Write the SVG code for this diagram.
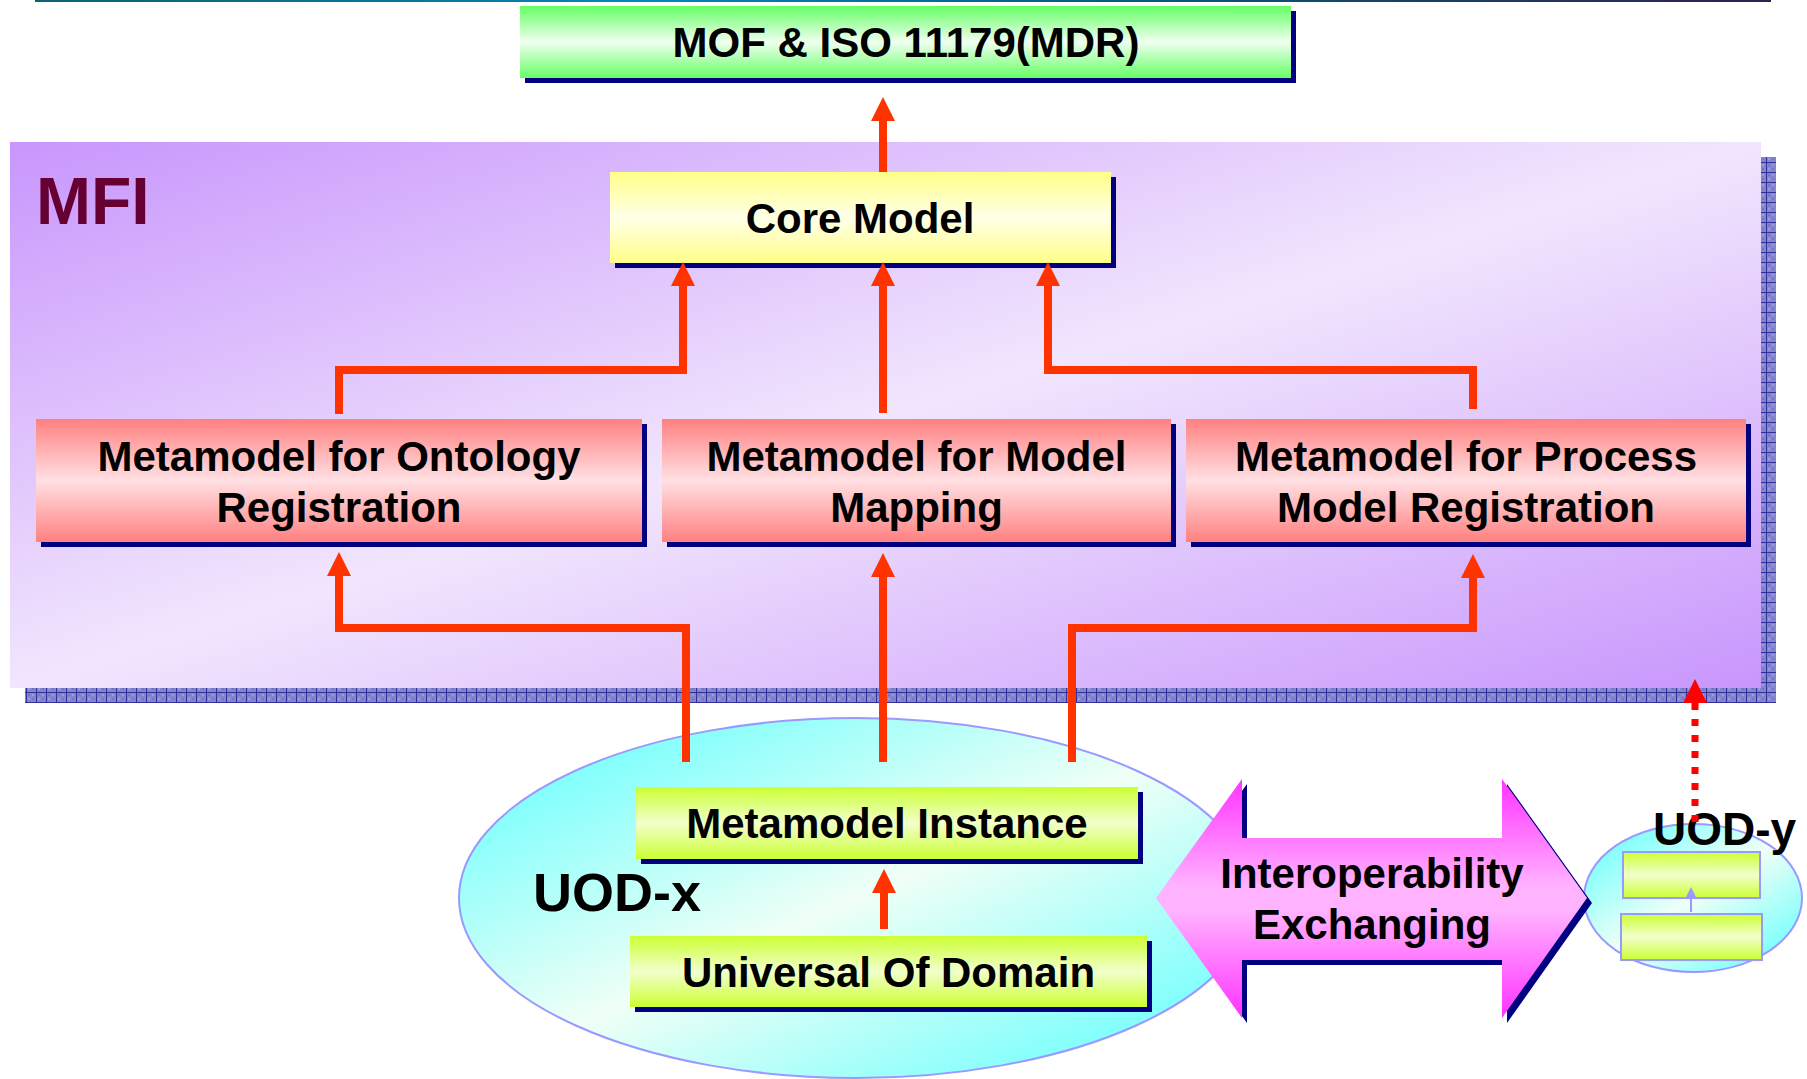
<svg xmlns="http://www.w3.org/2000/svg" width="1807" height="1079" viewBox="0 0 1807 1079">
  <defs>
    <style>
      .lbl { font-family: "Liberation Sans", Arial, sans-serif; font-weight: bold; font-size: 42px; fill: #000; text-anchor: middle; }
      .shadow { fill: #000080; }
      .wire { fill: none; stroke: #ff3300; stroke-width: 8; stroke-linejoin: miter; }
    </style>
    <linearGradient id="gTopLine" x1="0" y1="0" x2="1" y2="0">
      <stop offset="0" stop-color="#106070"/>
      <stop offset="0.35" stop-color="#0088b8"/>
      <stop offset="0.6" stop-color="#006080"/>
      <stop offset="1" stop-color="#302050"/>
    </linearGradient>
    <linearGradient id="gMof" x1="0" y1="0" x2="0" y2="1">
      <stop offset="0" stop-color="#66ff66"/>
      <stop offset="0.5" stop-color="#f0fff0"/>
      <stop offset="1" stop-color="#66ff66"/>
    </linearGradient>
    <linearGradient id="gCore" x1="0" y1="0" x2="0" y2="1">
      <stop offset="0" stop-color="#ffff88"/>
      <stop offset="0.5" stop-color="#ffffe8"/>
      <stop offset="1" stop-color="#ffff88"/>
    </linearGradient>
    <linearGradient id="gMeta" x1="0" y1="0" x2="0" y2="1">
      <stop offset="0" stop-color="#ff8080"/>
      <stop offset="0.5" stop-color="#ffe0e3"/>
      <stop offset="1" stop-color="#ff8080"/>
    </linearGradient>
    <linearGradient id="gLime" x1="0" y1="0" x2="0" y2="1">
      <stop offset="0" stop-color="#ccff33"/>
      <stop offset="0.5" stop-color="#f2ffcc"/>
      <stop offset="1" stop-color="#ccff33"/>
    </linearGradient>
    <linearGradient id="gMfi" x1="0" y1="0" x2="1" y2="1">
      <stop offset="0" stop-color="#c896fc"/>
      <stop offset="0.5" stop-color="#f1e6fd"/>
      <stop offset="1" stop-color="#c896fc"/>
    </linearGradient>
    <linearGradient id="gUod" x1="0" y1="0" x2="1" y2="1">
      <stop offset="0" stop-color="#55ffff"/>
      <stop offset="0.5" stop-color="#f0fff6"/>
      <stop offset="1" stop-color="#55ffff"/>
    </linearGradient>
    <linearGradient id="gInterop" x1="0" y1="0" x2="0" y2="1">
      <stop offset="0" stop-color="#ff33ff"/>
      <stop offset="0.45" stop-color="#ffb3ff"/>
      <stop offset="0.55" stop-color="#ffb3ff"/>
      <stop offset="1" stop-color="#ff33ff"/>
    </linearGradient>
    <pattern id="pGrid" patternUnits="userSpaceOnUse" x="6" y="2" width="10" height="10">
      <rect width="10" height="10" fill="#8585cc"/>
      <rect x="2" y="2" width="2" height="2" fill="#7575c0"/>
      <rect x="6" y="6" width="2" height="2" fill="#7575c0"/>
      <rect x="6" y="2" width="2" height="2" fill="#9c9cd8"/>
      <rect x="2" y="6" width="2" height="2" fill="#9c9cd8"/>
      <path d="M0.5,0 V10 M0,0.5 H10" stroke="#30309e" stroke-width="1"/>
    </pattern>
    <marker id="head" markerUnits="userSpaceOnUse" viewBox="0 0 24 24" refX="0" refY="12" markerWidth="24" markerHeight="24" orient="auto">
      <path d="M0,0 L24,12 L0,24 Z" fill="#ff3300"/>
    </marker>
    <marker id="headRed" markerUnits="userSpaceOnUse" viewBox="0 0 24 24" refX="0" refY="12" markerWidth="24" markerHeight="24" orient="auto">
      <path d="M0,0 L24,12 L0,24 Z" fill="#ff0000"/>
    </marker>
    <marker id="headThin" markerUnits="userSpaceOnUse" viewBox="0 0 10 10" refX="0" refY="5" markerWidth="10" markerHeight="10" orient="auto">
      <path d="M0,0 L10,5 L0,10 Z" fill="#9999ff"/>
    </marker>
  </defs>

  <rect width="1807" height="1079" fill="#ffffff"/>
  <rect x="35" y="0" width="1736" height="2" fill="url(#gTopLine)"/>

  <!-- standard registry on top -->
  <g id="mof">
    <rect class="shadow" x="525" y="11" width="771" height="72"/>
    <rect x="520" y="6" width="771" height="72" fill="url(#gMof)"/>
    <text class="lbl" x="906" y="57">MOF &amp; ISO 11179(MDR)</text>
  </g>

  <!-- MFI framework panel -->
  <g id="mfi">
    <rect x="25" y="157" width="1751" height="546" fill="url(#pGrid)"/>
    <rect x="10" y="142" width="1751" height="546" fill="url(#gMfi)"/>
    <text x="36" y="224" font-family="'Liberation Sans', Arial, sans-serif" font-weight="bold" font-size="66" fill="#660033">MFI</text>
  </g>

  <g id="core">
    <rect class="shadow" x="615" y="177" width="501" height="91"/>
    <rect x="610" y="172" width="501" height="91" fill="url(#gCore)"/>
    <text class="lbl" x="860" y="233">Core Model</text>
  </g>

  <g id="meta-ontology">
    <rect class="shadow" x="41" y="424" width="606" height="123"/>
    <rect x="36" y="419" width="606" height="123" fill="url(#gMeta)"/>
    <text class="lbl" x="339" y="471">Metamodel for Ontology</text>
    <text class="lbl" x="339" y="522">Registration</text>
  </g>

  <g id="meta-mapping">
    <rect class="shadow" x="667" y="424" width="509" height="123"/>
    <rect x="662" y="419" width="509" height="123" fill="url(#gMeta)"/>
    <text class="lbl" x="916.5" y="471">Metamodel for Model</text>
    <text class="lbl" x="916.5" y="522">Mapping</text>
  </g>

  <g id="meta-process">
    <rect class="shadow" x="1191" y="424" width="560" height="123"/>
    <rect x="1186" y="419" width="560" height="123" fill="url(#gMeta)"/>
    <text class="lbl" x="1466" y="471">Metamodel for Process</text>
    <text class="lbl" x="1466" y="522">Model Registration</text>
  </g>

  <!-- universe of discourse X -->
  <g id="uod-x">
    <ellipse cx="856" cy="898" rx="397" ry="180" fill="url(#gUod)" stroke="#9999ff" stroke-width="2"/>
  </g>

  <g id="meta-instance">
    <rect class="shadow" x="641" y="792" width="502" height="72"/>
    <rect x="636" y="787" width="502" height="72" fill="url(#gLime)"/>
    <text class="lbl" x="887" y="838">Metamodel Instance</text>
  </g>

  <g id="universal-domain">
    <rect class="shadow" x="635" y="941" width="517" height="71"/>
    <rect x="630" y="936" width="517" height="71" fill="url(#gLime)"/>
    <text class="lbl" x="888.5" y="987">Universal Of Domain</text>
  </g>

  <!-- universe of discourse Y -->
  <g id="uod-y">
    <ellipse cx="1693" cy="898" rx="109" ry="74" fill="url(#gUod)" stroke="#9999ff" stroke-width="2"/>
    <rect x="1623" y="852" width="137" height="46" fill="url(#gLime)" stroke="#9999ff" stroke-width="2"/>
    <rect x="1621" y="914" width="141" height="46" fill="url(#gLime)" stroke="#9999ff" stroke-width="2"/>
  </g>

  <!-- two-way exchange arrow -->
  <g id="interop">
    <polygon class="shadow" transform="translate(5,5)" points="1156,898 1242,779 1242,838 1502,838 1502,779 1587,898 1502,1018 1502,960 1242,960 1242,1018"/>
    <polygon points="1156,898 1242,779 1242,838 1502,838 1502,779 1587,898 1502,1018 1502,960 1242,960 1242,1018" fill="url(#gInterop)"/>
    <text class="lbl" x="1372" y="888">Interoperability</text>
    <text class="lbl" x="1372" y="939">Exchanging</text>
  </g>

  <g id="uod-labels">
    <text x="533" y="911" font-family="'Liberation Sans', Arial, sans-serif" font-weight="bold" font-size="54" fill="#000">UOD-x</text>
    <text x="1653" y="845" font-family="'Liberation Sans', Arial, sans-serif" font-weight="bold" font-size="46" fill="#000">UOD-y</text>
  </g>

  <g id="connectors">
    <path class="wire" d="M883,172 V121" marker-end="url(#head)"/>
    <path class="wire" d="M339,414 V370 H683 V286" marker-end="url(#head)"/>
    <path class="wire" d="M883,413 V286" marker-end="url(#head)"/>
    <path class="wire" d="M1473,409 V370 H1048 V286" marker-end="url(#head)"/>
    <path class="wire" d="M686,762 V628 H339 V576" marker-end="url(#head)"/>
    <path class="wire" d="M883,762 V577" marker-end="url(#head)"/>
    <path class="wire" d="M1072,762 V628 H1473 V578" marker-end="url(#head)"/>
    <path class="wire" d="M884,929 V893" marker-end="url(#head)"/>
    <path d="M1691,912 V897" fill="none" stroke="#9999ff" stroke-width="2" marker-end="url(#headThin)"/>
    <path d="M1695,822 V703" fill="none" stroke="#ff0000" stroke-width="7" stroke-dasharray="7 9" marker-end="url(#headRed)"/>
  </g>
</svg>
